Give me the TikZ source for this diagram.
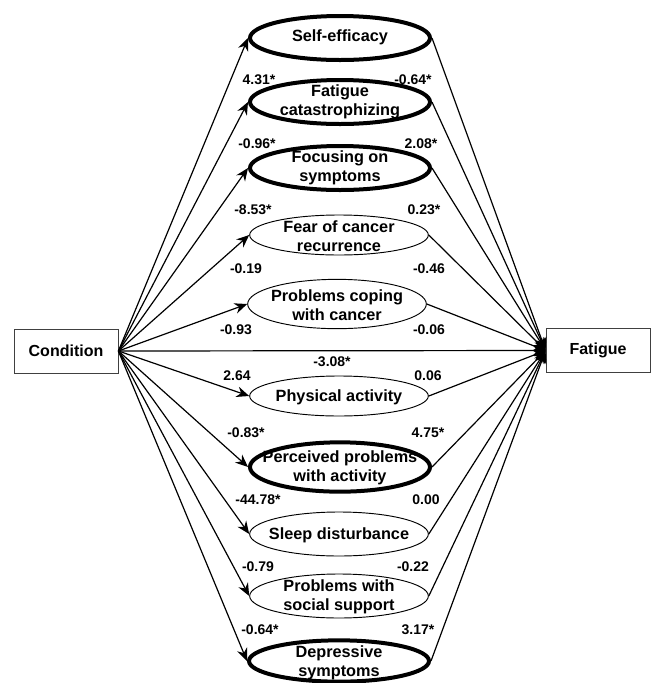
\documentclass[tikz,border=0pt]{standalone}
\usepackage{fontspec}
\setmainfont{Liberation Sans}
\usetikzlibrary{arrows.meta,shapes.geometric}
\begin{document}
\begin{tikzpicture}[x=0.75pt,y=-0.75pt,
  box/.style={draw=black!75,line width=0.6pt,minimum width=78pt,minimum height=33pt,inner sep=0pt,font=\fontsize{12}{14}\selectfont\bfseries},
  boldell/.style={draw,ellipse,line width=3pt,minimum width=135pt,minimum height=#1,inner sep=0pt},
  thinell/.style={draw,ellipse,line width=0.7pt,minimum width=134pt,minimum height=#1,inner sep=0pt},
  etext/.style={align=center,inner sep=0pt,font=\fontsize{12.2}{14.2}\selectfont\bfseries},
  coef/.style={inner sep=0pt,font=\fontsize{10.5}{12}\selectfont\bfseries},
  path/.style={line width=0.9pt,-{Stealth[length=9.5pt,width=8pt]}}
]
\useasboundingbox (0,0) rectangle (651,683);
\node[box] (cond) at (66,351) {Condition};
\node[box] (fat) at (598,350.5) {Fatigue};

\node[boldell=33pt] (e1) at (340,38) {};
\node[etext] (t1) at (340,37) {Self-efficacy};
\node[boldell=33pt] (e2) at (340,102) {};
\node[etext] (t2) at (340,102) {Fatigue\\catastrophizing};
\node[boldell=33pt] (e3) at (340,168) {};
\node[etext] (t3) at (340,168) {Focusing on\\symptoms};
\node[thinell=30pt] (e4) at (339,235) {};
\node[etext] (t4) at (339,236) {Fear of cancer\\recurrence};
\node[thinell=37pt] (e5) at (337,304) {};
\node[etext] (t5) at (337,305) {Problems coping\\with cancer};
\node[thinell=30pt] (e6) at (339,396) {};
\node[etext] (t6) at (339,397) {Physical activity};
\node[boldell=37pt] (e7) at (340,467) {};
\node[etext] (t7) at (340,468) {Perceived problems\\with activity};
\node[thinell=33pt] (e8) at (339,534) {};
\node[etext] (t8) at (339,535) {Sleep disturbance};
\node[thinell=33pt] (e9) at (339,596) {};
\node[etext] (t9) at (339,597) {Problems with\\social support};
\node[boldell=31pt] (e10) at (339,661) {};
\node[etext] (t10) at (339,663) {Depressive\\symptoms};

\foreach \e in {e1,e2,e3,e4,e5,e6,e7,e8,e9,e10}{
  \draw[path] (cond.east) -- (\e.west);
  \draw[path] (\e.east) -- (fat.west);
}
\draw[path] (cond.east) -- (fat.west);

\node[coef] (a1) at (259,80) {4.31*};
\node[coef] (b1) at (413,80) {-0.64*};
\node[coef] (a2) at (257,144) {-0.96*};
\node[coef] (b2) at (421,144) {2.08*};
\node[coef] (a3) at (253,210) {-8.53*};
\node[coef] (b3) at (424,210) {0.23*};
\node[coef] (a4) at (246,269) {-0.19};
\node[coef] (b4) at (429,269) {-0.46};
\node[coef] (a5) at (236,330) {-0.93};
\node[coef] (b5) at (429,330) {-0.06};
\node[coef] (c0) at (332,362) {-3.08*};
\node[coef] (a6) at (237,376) {2.64};
\node[coef] (b6) at (428,376) {0.06};
\node[coef] (a7) at (246,433) {-0.83*};
\node[coef] (b7) at (428,433) {4.75*};
\node[coef] (a8) at (258,500) {-44.78*};
\node[coef] (b8) at (426,500) {0.00};
\node[coef] (a9) at (258,567) {-0.79};
\node[coef] (b9) at (413,567) {-0.22};
\node[coef] (a10) at (260,630) {-0.64*};
\node[coef] (b10) at (418,630) {3.17*};
\end{tikzpicture}
\end{document}
